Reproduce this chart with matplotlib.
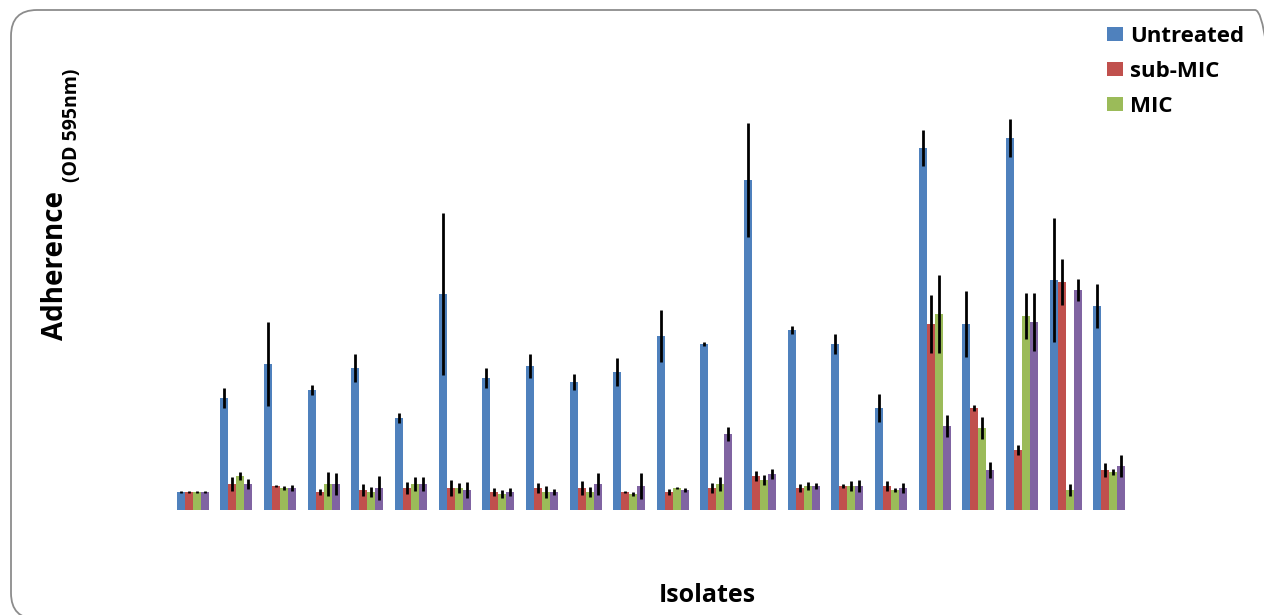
import numpy as np
import matplotlib
matplotlib.use('Agg')
import matplotlib.pyplot as plt
from matplotlib.patches import FancyBboxPatch
from matplotlib.transforms import IdentityTransform

# --- Data (adherence; arbitrary OD units) ---
isolates = list(range(1, 23))
untreated = [0.18, 1.12, 1.46, 1.20, 1.42, 0.92, 2.16, 1.32, 1.44, 1.28, 1.38,
             1.74, 1.66, 3.30, 1.80, 1.66, 1.02, 3.62, 1.86, 3.72, 2.30, 2.04]
untreated_err = [0.01, 0.10, 0.42, 0.05, 0.14, 0.05, 0.81, 0.10, 0.12, 0.08, 0.14,
                 0.26, 0.02, 0.57, 0.04, 0.10, 0.14, 0.18, 0.33, 0.19, 0.62, 0.22]
sub_mic = [0.18, 0.26, 0.24, 0.18, 0.20, 0.22, 0.22, 0.18, 0.22, 0.22, 0.18,
           0.18, 0.22, 0.34, 0.22, 0.24, 0.24, 1.86, 1.02, 0.60, 2.28, 0.40]
sub_mic_err = [0.01, 0.07, 0.01, 0.03, 0.06, 0.06, 0.08, 0.04, 0.05, 0.07, 0.01,
               0.03, 0.05, 0.05, 0.04, 0.02, 0.05, 0.29, 0.03, 0.05, 0.23, 0.07]
mic = [0.18, 0.34, 0.22, 0.26, 0.18, 0.26, 0.22, 0.16, 0.18, 0.18, 0.16,
       0.22, 0.26, 0.30, 0.24, 0.24, 0.20, 1.96, 0.82, 1.94, 0.20, 0.38]
mic_err = [0.01, 0.04, 0.02, 0.12, 0.05, 0.07, 0.05, 0.04, 0.06, 0.05, 0.02,
           0.01, 0.07, 0.05, 0.04, 0.05, 0.02, 0.39, 0.11, 0.23, 0.06, 0.03]
fourth = [0.18, 0.26, 0.22, 0.26, 0.22, 0.26, 0.20, 0.18, 0.18, 0.26, 0.24,
          0.20, 0.76, 0.36, 0.24, 0.24, 0.22, 0.84, 0.40, 1.88, 2.20, 0.44]
fourth_err = [0.01, 0.05, 0.03, 0.11, 0.12, 0.07, 0.08, 0.04, 0.03, 0.11, 0.13,
              0.02, 0.07, 0.05, 0.03, 0.06, 0.05, 0.11, 0.08, 0.29, 0.11, 0.11]

series = [
    ("Untreated", untreated, untreated_err, "#4F81BD"),
    ("sub-MIC", sub_mic, sub_mic_err, "#C0504D"),
    ("MIC", mic, mic_err, "#9BBB59"),
    (None, fourth, fourth_err, "#8064A2"),
]

W, H = 1264, 615
fig = plt.figure(figsize=(W / 100, H / 100), dpi=100)

# rounded chart border in pixels (runs off the right and bottom edges)
fig.patches.append(FancyBboxPatch((11, -4), 1270, 609, transform=IdentityTransform(),
                                  boxstyle="round,pad=0,rounding_size=26",
                                  fill=False, edgecolor="#8c8c8c", lw=1.3))

ax = fig.add_axes([171 / W, (H - 510) / H, 960 / W, 400 / H])
x = np.arange(len(isolates))
bw = 0.183
handles = []
for i, (name, vals, errs, col) in enumerate(series):
    pos = x + (i - 1.5) * bw
    b = ax.bar(pos, vals, width=bw, color=col, zorder=2)
    ax.errorbar(pos, vals, yerr=errs, fmt='none', ecolor='black', elinewidth=2,
                capsize=0, zorder=3)
    if name:
        b.set_label(name)
        handles.append(b)

ax.set_xlim(-0.5, len(isolates) - 0.5)
ax.set_ylim(0, 4.0)
ax.set_xticks([])
ax.set_yticks([])
for s in ax.spines.values():
    s.set_visible(False)
ax.patch.set_alpha(0)

fam = ['Open Sans', 'DejaVu Sans']
fig.text(56 / W, 1 - 266 / H, 'Adherence', rotation=90, ha='center', va='center',
         fontsize=20, fontweight='bold', family=fam)
fig.text(72 / W, 1 - 125 / H, '(OD 595nm)', rotation=90, ha='center', va='center',
         fontsize=14, fontweight='bold', family=fam)
fig.text(707 / W, 1 - 596 / H, 'Isolates', ha='center', va='center',
         fontsize=18, fontweight='bold', family=fam)

fig.legend(handles=handles, loc='upper left', bbox_to_anchor=(1107 / W, 1 - 26 / H),
           frameon=False, handlelength=0.7, handleheight=0.6, handletextpad=0.35,
           labelspacing=0.62, borderpad=0, borderaxespad=0,
           prop={'family': fam, 'weight': 'bold', 'size': 16})

fig.savefig('out.png', dpi=100)
